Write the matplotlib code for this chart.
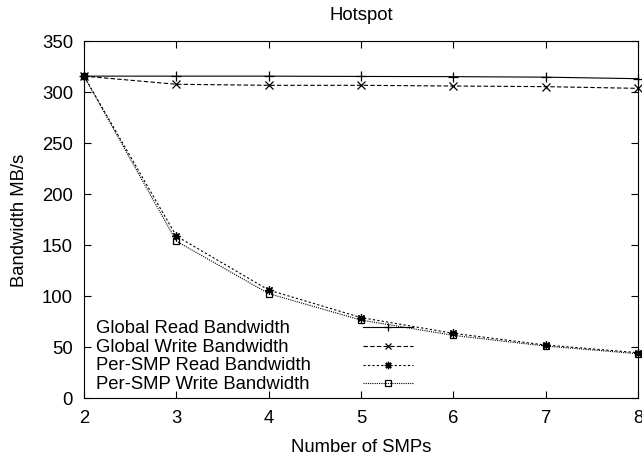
import matplotlib
matplotlib.use('Agg')
import matplotlib.pyplot as plt
import numpy as np

plt.rcParams['font.family'] = ['Liberation Sans', 'DejaVu Sans']

# Data.
smps = [2, 3, 4, 5, 6, 7, 8]
global_read = [315.5, 315.5, 315.5, 315.2, 315.0, 314.5, 313.0]
global_write = [315.5, 307.5, 306.5, 306.5, 305.8, 305.2, 303.5]
smp_read = [315.5, 158.5, 105.5, 78.5, 63.0, 51.5, 44.0]
smp_write = [315.5, 153.5, 102.0, 76.0, 61.0, 50.5, 43.0]

labels = ['Global Read Bandwidth', 'Global Write Bandwidth',
          'Per-SMP Read Bandwidth', 'Per-SMP Write Bandwidth']
series = [global_read, global_write, smp_read, smp_write]

styles = [dict(ls='-', marker='+', ms=7),
          dict(ls=(0, (4, 2)), marker='x', ms=5.5),
          dict(ls=(0, (2, 2)), marker=(8, 2, 0), ms=6),
          dict(ls=(0, (1, 1)), marker='s', ms=5)]

FS = 13.3

fig = plt.figure(figsize=(6.42, 4.56), dpi=100)
ax = fig.add_axes([84/642, 1-398.5/456, 554/642, 356.5/456])

for vals, st in zip(series, styles):
    ax.plot(smps, vals, color='black', lw=0.8, mew=0.9, mec='black',
            mfc='none', clip_on=False, **st)

# gnuplot-style key: text on the left, sample on the right
rows = [0.197, 0.144, 0.092, 0.040]
for lab, st, yy in zip(labels, styles, rows):
    ax.text(0.0217, yy, lab, transform=ax.transAxes, fontsize=FS,
            va='center', ha='left')
    ax.plot([0.504, 0.594], [yy, yy], transform=ax.transAxes,
            color='black', lw=0.8, ls=st['ls'])
    ax.plot([0.549], [yy], transform=ax.transAxes, color='black',
            marker=st['marker'], ms=st['ms'] * 0.9, mfc='none', mec='black',
            mew=0.9, ls='none')

ax.set_xlim(2, 8)
ax.set_ylim(0, 350)
ax.set_xticks(smps)
ax.set_yticks(np.arange(0, 351, 50))
ax.tick_params(direction='in', top=True, right=True, length=5,
               width=0.8, labelsize=FS, pad=8)
for sp in ax.spines.values():
    sp.set_linewidth(0.8)

ax.set_title('Hotspot', fontsize=FS, pad=16)
ax.set_xlabel('Number of SMPs', fontsize=FS, labelpad=9)
ax.set_ylabel('Bandwidth MB/s', fontsize=FS, labelpad=10)

fig.savefig('out.png', dpi=100)
